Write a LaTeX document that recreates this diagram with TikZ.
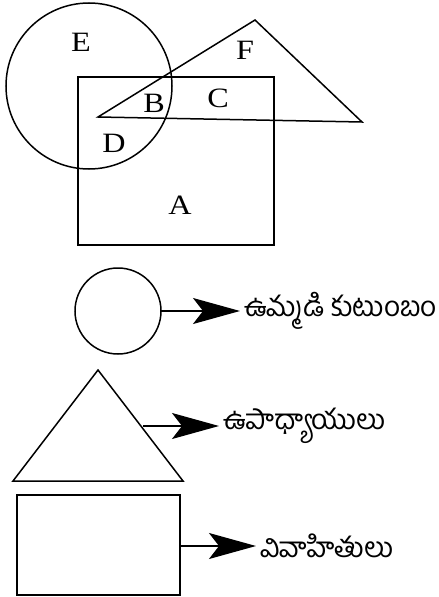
\documentclass[tikz,border=0pt]{standalone}
\usepackage{fontspec}
\setmainfont[FakeStretch=1.15]{Liberation Serif}
\newfontfamily\telugu[Script=Telugu]{Hind Guntur}
\usetikzlibrary{arrows.meta}
\begin{document}
\begin{tikzpicture}[x=1pt,y=-1pt,
  outl/.style={line width=1.5pt},
  lbl/.style={font=\fontsize{28}{28}\selectfont, inner sep=0pt},
  tel/.style={font=\telugu\fontsize{28}{28}\selectfont, inner ysep=0pt, inner xsep=4pt, anchor=west},
  arr/.style={line width=1.4pt, -{Stealth[length=47pt,width=26pt,inset=10pt]}}]
\useasboundingbox (0,0) rectangle (439,597);
% top figure
\draw[outl] (78,77) rectangle (274,245);
\draw[outl] (89,86) circle[radius=83];
\draw[outl] (98,117) -- (255,20) -- (362,122) -- cycle;
\node[lbl] (E) at (81,42) {E};
\node[lbl] (F) at (245,50) {F};
\node[lbl] (B) at (154,103) {B};
\node[lbl] (C) at (218,98) {C};
\node[lbl] (D) at (114,143) {D};
\node[lbl] (A) at (180,205) {A};
% legend
\draw[outl] (118,311) circle[radius=43];
\coordinate (c1) at (161,311);
\node[tel] (t1) at (240,311) {ఉమ్మడి కుటుంబం};
\draw[arr] (c1) -- (t1.west);
\draw[outl] (98,370) -- (183,481) -- (13,481) -- cycle;
\coordinate (c2) at (143,426);
\node[tel] (t2) at (219,426) {ఉపాధ్యాయులు};
\draw[arr] (c2) -- (t2.west);
\draw[outl] (17,495) rectangle (180,595);
\coordinate (c3) at (180,546);
\node[tel] (t3) at (256,546) {వివాహితులు};
\draw[arr] (c3) -- (t3.west);
\end{tikzpicture}
\end{document}
